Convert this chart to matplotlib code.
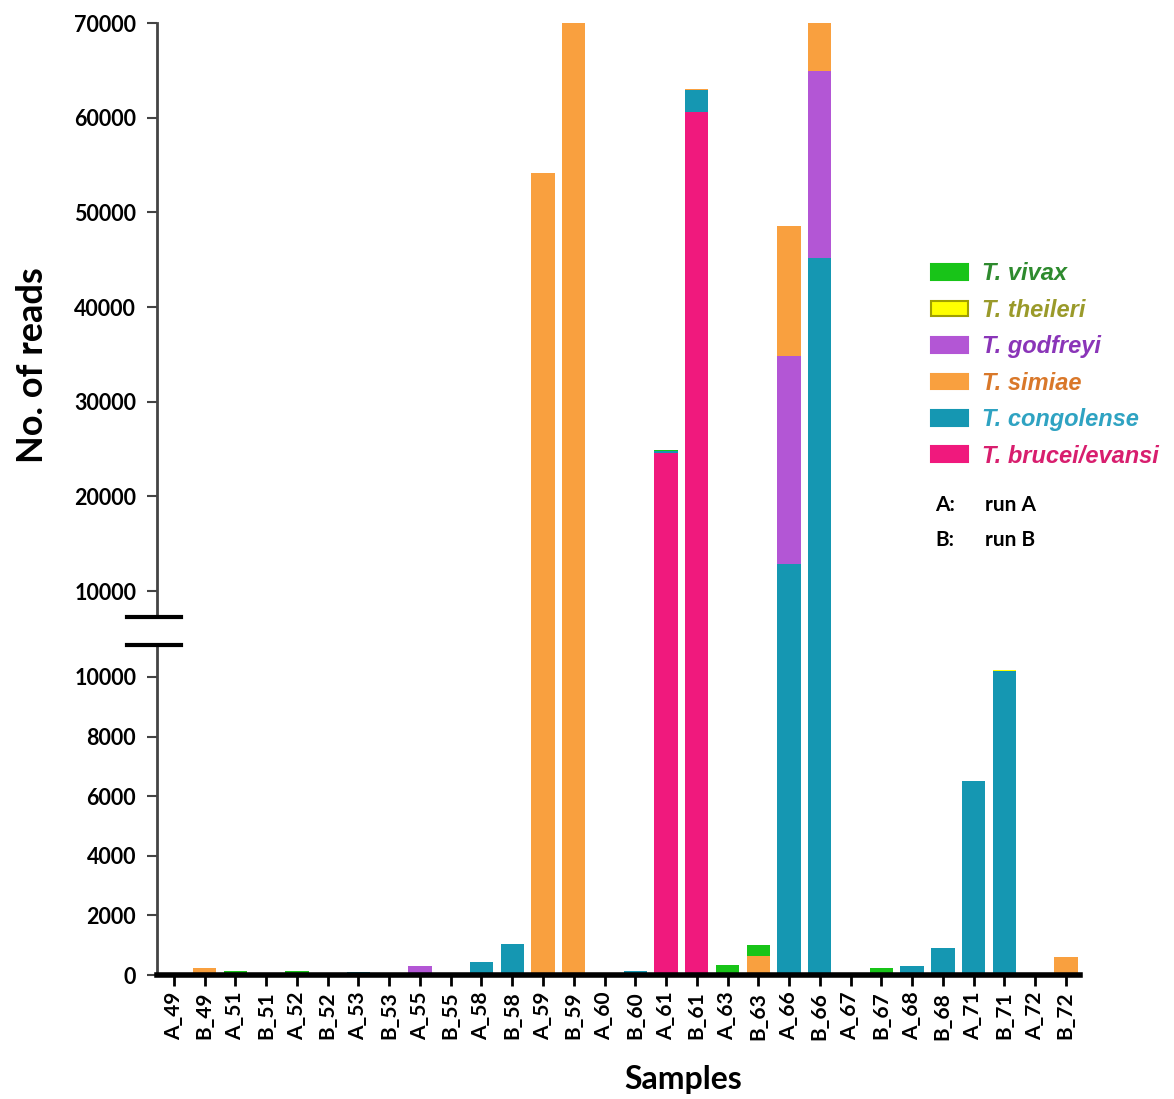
import numpy as np
import matplotlib
matplotlib.use("Agg")
import matplotlib.pyplot as plt
from matplotlib.patches import Patch
from matplotlib.lines import Line2D

plt.rcParams['font.family'] = ['Lato', 'DejaVu Sans']
plt.rcParams['font.weight'] = 'bold'

samples = ['A_49', 'B_49', 'A_51', 'B_51', 'A_52', 'B_52', 'A_53', 'B_53',
           'A_55', 'B_55', 'A_58', 'B_58', 'A_59', 'B_59', 'A_60', 'B_60',
           'A_61', 'B_61', 'A_63', 'B_63', 'A_66', 'B_66', 'A_67', 'B_67',
           'A_68', 'B_68', 'A_71', 'B_71', 'A_72', 'B_72']

# reads per species, one value per sample (stacked bottom to top)
brucei = [0, 0, 0, 0, 0, 0, 0, 0, 0, 0, 0, 0, 0, 0, 0, 0,
          24600, 60550, 0, 0, 0, 0, 0, 0, 0, 0, 0, 0, 0, 0]
congolense = [0, 0, 0, 0, 0, 0, 100, 0, 0, 0, 420, 1050, 0, 0, 0, 150,
              200, 2320, 0, 0, 12850, 45150, 0, 0, 300, 900, 6500, 10200, 0, 0]
godfreyi = [0, 0, 0, 0, 0, 0, 0, 0, 300, 0, 0, 0, 0, 0, 0, 0,
            0, 0, 0, 0, 22000, 19750, 0, 0, 0, 0, 0, 0, 0, 0]
simiae = [0, 250, 0, 0, 0, 0, 0, 0, 0, 0, 0, 0, 54200, 70000, 0, 0,
          0, 120, 0, 640, 13700, 6000, 0, 0, 0, 0, 0, 0, 0, 600]
theileri = [0, 0, 0, 0, 0, 0, 0, 0, 0, 0, 0, 0, 0, 0, 0, 0,
            0, 50, 0, 0, 0, 0, 0, 0, 0, 0, 0, 40, 0, 0]
vivax = [0, 0, 130, 0, 150, 0, 0, 0, 0, 0, 0, 0, 0, 0, 0, 0,
         100, 0, 330, 360, 0, 0, 0, 250, 0, 0, 0, 0, 0, 0]

series = {
    'T. brucei/evansi': (brucei, '#F0197D', '#D81E6E'),
    'T. congolense': (congolense, '#1597B2', '#2FA3C2'),
    'T. godfreyi': (godfreyi, '#B356D5', '#8A35B8'),
    'T. simiae': (simiae, '#F9A03F', '#D9782A'),
    'T. theileri': (theileri, '#FFFF00', '#9A9A2A'),
    'T. vivax': (vivax, '#18C418', '#2E8A2E'),
}
legend_order = ['T. vivax', 'T. theileri', 'T. godfreyi', 'T. simiae',
                'T. congolense', 'T. brucei/evansi']

LO_TOP = 11070      # top of the lower segment
HI_BOTTOM = 4296    # upper scale value at the lower segment top
HI_SPINE = 7254     # where the upper spine starts (break mark)

fig = plt.figure(figsize=(11.74, 10.99), dpi=100)
W, H = 1174, 1099
left = 157 / W
width = (1080 - 157) / W
ax_lo = fig.add_axes([left, 1 - 975 / H, width, (975 - 645) / H])
ax_hi = fig.add_axes([left, 1 - 645 / H, width, (645 - 23) / H])
ax_hi.patch.set_alpha(0)

x = np.arange(len(samples))
totals = np.sum([np.array(v[0], dtype=float) for v in series.values()], axis=0)
crosses = totals > LO_TOP

for ax, mask in ((ax_lo, np.ones(len(samples), bool)), (ax_hi, crosses)):
    bottom = np.zeros(len(samples))
    for name, (vals, col, _) in series.items():
        vals = np.where(mask, np.array(vals, dtype=float), 0)
        ax.bar(x, vals, 0.76, bottom=bottom, color=col, linewidth=0)
        bottom += vals
    ax.set_xlim(-0.55, len(samples) - 0.54)
    ax.spines['top'].set_visible(False)
    ax.spines['right'].set_visible(False)
    ax.spines['left'].set_linewidth(2)
    ax.spines['left'].set_color('#444444')
    ax.tick_params(axis='y', direction='out', length=7, width=1.5,
                   color='#444444', labelsize=15.5, pad=8)

ax_lo.set_ylim(0, LO_TOP)
ax_lo.set_yticks(np.arange(0, 10001, 2000))
ax_lo.spines['bottom'].set_linewidth(4)
ax_lo.set_xticks(x)
ax_lo.set_xticklabels(samples, rotation=90, fontsize=15)
ax_lo.tick_params(axis='x', direction='out', length=8, width=2, pad=4)

ax_hi.set_ylim(HI_BOTTOM, 70000)
ax_hi.spines['left'].set_bounds(HI_SPINE, 70000)
ax_hi.set_yticks(np.arange(10000, 70001, 10000))
ax_hi.spines['bottom'].set_visible(False)
ax_hi.set_xticks([])

# axis break marks
for yy in (617, 645):
    fig.add_artist(Line2D([127 / W, 181 / W], [1 - yy / H, 1 - yy / H],
                          color='black', linewidth=3))

fig.text(33 / W, 1 - 365 / H, 'No. of reads', rotation=90, ha='center',
         va='center', fontsize=26, fontweight='bold')
fig.text(683 / W, 1 - 1080 / H, 'Samples', ha='center', va='center',
         fontsize=23, fontweight='bold')

handles = []
for name in legend_order:
    col = series[name][1]
    edge = '#A0A000' if name == 'T. theileri' else col
    handles.append(Patch(facecolor=col, edgecolor=edge, linewidth=1.5))
leg = fig.legend(handles, legend_order, loc='upper left',
                 bbox_to_anchor=(910 / W, 1 - 241 / H), frameon=False,
                 prop={'family': 'Liberation Sans', 'size': 17,
                       'weight': 'bold', 'style': 'italic'},
                 handlelength=1.57, handleheight=0.64,
                 handletextpad=0.6, labelspacing=0.57)
for txt, name in zip(leg.get_texts(), legend_order):
    txt.set_color(series[name][2])

fig.text(935 / W, 1 - 505 / H, 'A:', fontsize=15, fontweight='bold', va='center')
fig.text(985 / W, 1 - 505 / H, 'run A', fontsize=15, fontweight='bold', va='center')
fig.text(935 / W, 1 - 540 / H, 'B:', fontsize=15, fontweight='bold', va='center')
fig.text(985 / W, 1 - 540 / H, 'run B', fontsize=15, fontweight='bold', va='center')

fig.savefig('out.png', dpi=100, facecolor='white')
